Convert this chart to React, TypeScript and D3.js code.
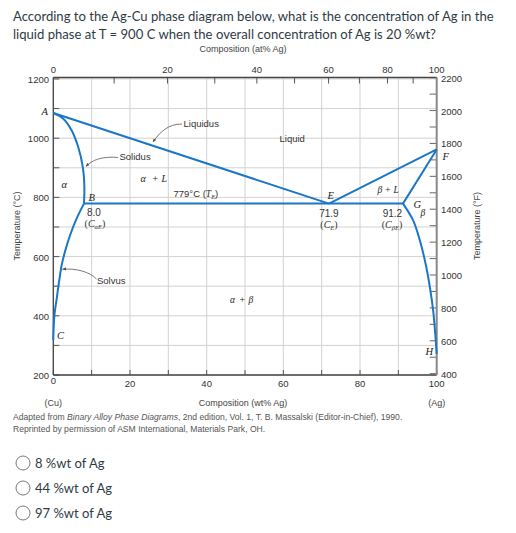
import React from 'react';
import * as d3 from 'd3';

// ---- data (°C vs wt% Ag) ----
const wtGridTicks = [0, 10, 20, 30, 40, 50, 60, 70, 80, 90, 100];
const wtLabels = [0, 20, 40, 60, 80, 100];
const atTicks = [10, 20, 30, 40, 50, 60, 70, 80, 90];
const atLabels = [0, 20, 40, 60, 80, 100];
const tempCTicks = [200, 300, 400, 500, 600, 700, 800, 900, 1000, 1100, 1200];
const tempCLabels = [200, 400, 600, 800, 1000, 1200];
const tempFTicks = [400, 500, 600, 700, 800, 900, 1000, 1100, 1200, 1300, 1400, 1500, 1600, 1700, 1800, 1900, 2000, 2100, 2200];
const tempFLabels = [400, 600, 800, 1000, 1200, 1400, 1600, 1800, 2000, 2200];

const liquidusCu: [number, number][] = [[0, 1085], [71.9, 779]];
const liquidusAg: [number, number][] = [[71.9, 779], [100, 962]];
const eutecticLine: [number, number][] = [[8.0, 779], [91.2, 779]];
const solidusAlpha: [number, number][] = [[0, 1085], [2.6, 1066], [4.8, 1026], [6.5, 970], [7.7, 902], [8.1, 840], [8.0, 779]];
const solvusAlpha: [number, number][] = [[8.0, 779], [6.1, 729], [4.4, 673], [3.05, 617], [2.2, 572], [1.5, 515], [0.9, 459], [0.3, 403], [0.05, 346], [0, 318]];
const solidusBeta: [number, number][] = [[91.2, 779], [100, 962]];
const solvusBeta: [number, number][] = [[91.2, 779], [93.8, 724], [95.6, 655], [97.2, 570], [98.3, 490], [99.1, 415], [99.6, 342], [100, 271]];

const options = ['8 %wt of Ag', '44 %wt of Ag', '97 %wt of Ag'];

const BLUE = '#1b76c6';
const SANS = '"Liberation Sans", Arial, sans-serif';
const SERIF = '"Liberation Serif", "Times New Roman", serif';
const LATO = 'Lato, "Open Sans", sans-serif';

export default function App() {
  const x = d3.scaleLinear().domain([0, 100]).range([53.3, 436.7]);
  const y = d3.scaleLinear().domain([200, 1205]).range([375, 77.5]);
  const yF = (f: number) => y(((f - 32) * 5) / 9);
  const atToWt = (a: number) => (a * 107.87) / (a * 107.87 + (100 - a) * 63.55) * 100;

  const straight = d3.line<[number, number]>().x(d => x(d[0])).y(d => y(d[1]));
  const smooth = d3.line<[number, number]>().x(d => x(d[0])).y(d => y(d[1])).curve(d3.curveCatmullRom.alpha(0.5));

  const left = x(0), right = x(100), top = y(1205), bottom = y(200);

  const arrow = (d: string, key: string) => (
    <path key={key} d={d} fill="none" stroke="#555" strokeWidth={0.8} markerEnd="url(#ah)" />
  );

  const serifIt = { fontFamily: SERIF, fontStyle: 'italic' as const, fontSize: 10.5, fill: '#222' };
  const num = { fontFamily: SANS, fontSize: 9.5, fill: '#333' };

  return (
    <svg width={516} height={533} style={{ position: 'absolute', left: 0, top: 0, background: '#fff' }}>
      <defs>
        <marker id="ah" viewBox="0 0 10 10" refX="9" refY="5" markerWidth="5" markerHeight="5" orient="auto">
          <path d="M0,1 L10,5 L0,9 z" fill="#555" />
        </marker>
      </defs>
      <rect width={516} height={533} fill="#fff" />

      {/* question */}
      <text x={13} y={20.5} fontFamily={LATO} fontSize={13.1} fill="#2d3b45">
        According to the Ag-Cu phase diagram below, what is the concentration of Ag in the
      </text>
      <text x={13} y={39} fontFamily={LATO} fontSize={13.1} fill="#2d3b45">
        liquid phase at T = 900 C when the overall concentration of Ag is 20 %wt?
      </text>

      {/* top axis title */}
      <text x={243} y={52} textAnchor="middle" fontFamily={SANS} fontSize={9} fill="#444">Composition (at% Ag)</text>

      {/* grid */}
      {wtGridTicks.map(t => (
        <line key={'gv' + t} x1={x(t)} x2={x(t)} y1={top} y2={bottom} stroke="#d2d2d2" strokeWidth={1} />
      ))}
      {tempCTicks.map(t => (
        <line key={'gh' + t} x1={left} x2={right} y1={y(t)} y2={y(t)} stroke="#d2d2d2" strokeWidth={1} />
      ))}

      {/* ticks */}
      {tempCTicks.map(t => (
        <line key={'lt' + t} x1={left} x2={left + 6} y1={y(t)} y2={y(t)} stroke="#555" strokeWidth={1} />
      ))}
      {wtGridTicks.map(t => (
        <line key={'bt' + t} x1={x(t)} x2={x(t)} y1={bottom} y2={bottom - 5} stroke="#555" strokeWidth={1} />
      ))}
      {atTicks.map(t => (
        <line key={'tt' + t} x1={x(atToWt(t))} x2={x(atToWt(t))} y1={top} y2={top + 6} stroke="#555" strokeWidth={1} />
      ))}
      {tempFTicks.map(t => (
        <line key={'rt' + t} x1={right} x2={right - 7} y1={yF(t)} y2={yF(t)} stroke="#666" strokeWidth={1} />
      ))}

      {/* frame */}
      <line x1={left} x2={right} y1={top} y2={top} stroke="#444" strokeWidth={1.3} />
      <line x1={left} x2={right} y1={bottom} y2={bottom} stroke="#444" strokeWidth={1.5} />
      <line x1={left} x2={left} y1={top} y2={bottom} stroke="#444" strokeWidth={1.3} />
      <line x1={right} x2={right} y1={top} y2={bottom} stroke="#888" strokeWidth={2} />

      {/* tick labels */}
      {tempCLabels.map(t => (
        <text key={'ll' + t} x={49} y={y(t) + 4} textAnchor="end" {...num}>{t}</text>
      ))}
      {wtLabels.map(t => (
        <text key={'bl' + t} x={x(t)} y={t === 0 ? 384 : 386.5} textAnchor="middle" {...num}>{t}</text>
      ))}
      {atLabels.map(t => (
        <text key={'al' + t} x={x(atToWt(t))} y={73} textAnchor="middle" {...num}>{t}</text>
      ))}
      {tempFLabels.map(t => (
        <text key={'fl' + t} x={441} y={yF(t) + 4} {...num}>{t}</text>
      ))}

      {/* axis titles */}
      <text transform="translate(20,226) rotate(-90)" textAnchor="middle" fontFamily={SANS} fontSize={9} fill="#444">Temperature (°C)</text>
      <text transform="translate(480,226) rotate(-90)" textAnchor="middle" fontFamily={SANS} fontSize={9} fill="#444">Temperature (°F)</text>

      {/* phase boundaries */}
      <g fill="none" stroke={BLUE} strokeWidth={2} strokeLinejoin="round">
        <path d={straight(liquidusCu) || ''} />
        <path d={straight(liquidusAg) || ''} />
        <path d={straight(eutecticLine) || ''} />
        <path d={smooth(solidusAlpha) || ''} />
        <path d={smooth(solvusAlpha) || ''} />
        <path d={straight(solidusBeta) || ''} />
        <path d={smooth(solvusBeta) || ''} />
      </g>

      {/* annotation arrows */}
      {arrow('M182,124 C168,124 160,132 153,142', 'a1')}
      {arrow('M118,157.5 C102,156 92,160 86,166.5', 'a2')}
      {arrow('M96.5,279 C90,272 76,268 62.5,269.3', 'a3')}

      {/* region / point labels */}
      <text x={183.5} y={126.7} fontFamily={SANS} fontSize={9.5} fill="#333">Liquidus</text>
      <text x={119.5} y={160} fontFamily={SANS} fontSize={9.5} fill="#333">Solidus</text>
      <text x={97} y={284} fontFamily={SANS} fontSize={9.5} fill="#333">Solvus</text>
      <text x={279.5} y={142.3} fontFamily={SANS} fontSize={9.5} fill="#333">Liquid</text>

      <text x={41.5} y={115} {...serifIt}>A</text>
      <text x={61.5} y={188.3} {...serifIt}>α</text>
      <text x={88.5} y={201} {...serifIt}>B</text>
      <text x={57} y={339} {...serifIt}>C</text>
      <text x={327.5} y={199.3} {...serifIt}>E</text>
      <text x={442.5} y={160} {...serifIt}>F</text>
      <text x={413.5} y={208} {...serifIt}>G</text>
      <text x={420.5} y={216} {...serifIt} fontSize={9.5}>β</text>
      <text x={425.5} y={355} {...serifIt}>H</text>

      <text x={140.5} y={181.7} {...serifIt} fontSize={10}>α<tspan dx={6}>+</tspan><tspan dx={3}>L</tspan></text>
      <text x={377.5} y={192.7} {...serifIt} fontSize={9.5}>β + L</text>
      <text x={230} y={302.7} {...serifIt} fontSize={9.5}>α<tspan dx={4}>+</tspan><tspan dx={3}>β</tspan></text>

      <text x={173.5} y={197.3} fontFamily={SANS} fontSize={9.5} fill="#333">
        779°C (<tspan fontFamily={SERIF} fontStyle="italic">T</tspan>
        <tspan fontFamily={SERIF} fontStyle="italic" fontSize={6.5} dy={2}>E</tspan>
        <tspan dy={-2}>)</tspan>
      </text>

      <text x={x(8.0) + 10} y={216} textAnchor="middle" fontFamily={SANS} fontSize={10} fill="#333">8.0</text>
      <text x={x(8.0) + 11} y={227} textAnchor="middle" fontFamily={SERIF} fontSize={10} fill="#333">
        (<tspan fontStyle="italic">C</tspan><tspan fontStyle="italic" fontSize={6.5} dy={2}>αE</tspan><tspan dy={-2}>)</tspan>
      </text>
      <text x={x(71.9)} y={217.3} textAnchor="middle" fontFamily={SANS} fontSize={10} fill="#333">71.9</text>
      <text x={x(71.9)} y={228} textAnchor="middle" fontFamily={SERIF} fontSize={10} fill="#333">
        (<tspan fontStyle="italic">C</tspan><tspan fontStyle="italic" fontSize={6.5} dy={2}>E</tspan><tspan dy={-2}>)</tspan>
      </text>
      <text x={x(91.2) - 10.5} y={217} textAnchor="middle" fontFamily={SANS} fontSize={10} fill="#333">91.2</text>
      <text x={x(91.2) - 11} y={228} textAnchor="middle" fontFamily={SERIF} fontSize={10} fill="#333">
        (<tspan fontStyle="italic">C</tspan><tspan fontStyle="italic" fontSize={6.5} dy={2}>βE</tspan><tspan dy={-2}>)</tspan>
      </text>

      {/* bottom titles */}
      <text x={x(0)} y={406} textAnchor="middle" fontFamily={SANS} fontSize={9} fill="#444">(Cu)</text>
      <text x={243} y={406} textAnchor="middle" fontFamily={SANS} fontSize={9} fill="#444">Composition (wt% Ag)</text>
      <text x={x(100)} y={406} textAnchor="middle" fontFamily={SANS} fontSize={9} fill="#444">(Ag)</text>

      <text x={13} y={419.5} fontFamily={SANS} fontSize={8.6} fill="#555">
        Adapted from <tspan fontStyle="italic">Binary Alloy Phase Diagrams</tspan>, 2nd edition, Vol. 1, T. B. Massalski (Editor-in-Chief), 1990.
      </text>
      <text x={13} y={432} fontFamily={SANS} fontSize={8.6} fill="#555">
        Reprinted by permission of ASM International, Materials Park, OH.
      </text>

      {/* answer options */}
      {options.map((o, i) => (
        <g key={o}>
          <circle cx={23} cy={463 + i * 25} r={7} fill="#fff" stroke="#777" strokeWidth={1} />
          <text x={35} y={467.5 + i * 25} fontFamily={LATO} fontSize={13} fill="#2d3b45">{o}</text>
        </g>
      ))}
    </svg>
  );
}
